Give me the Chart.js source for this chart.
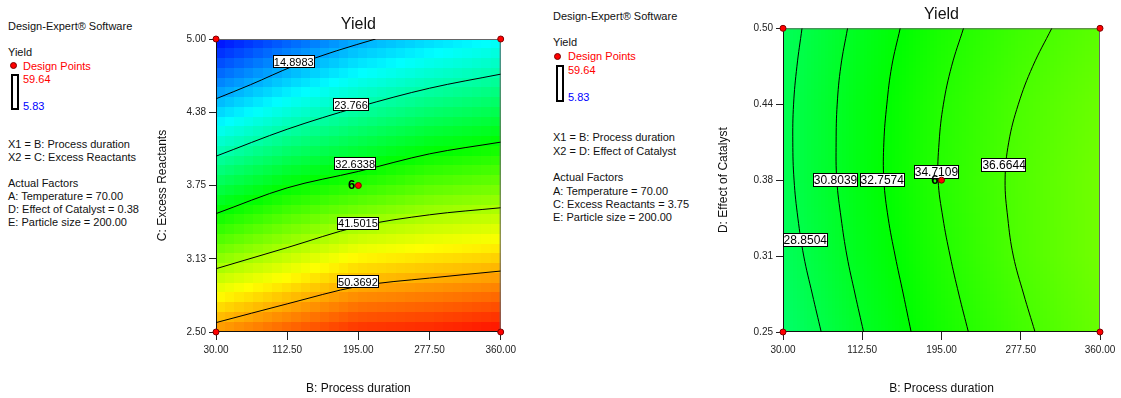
<!DOCTYPE html>
<html>
<head>
<meta charset="utf-8">
<script src="https://cdn.jsdelivr.net/npm/chart.js@4.4.1/dist/chart.umd.min.js"></script>
<style>
  body { margin: 0; width: 1121px; height: 398px; position: relative; background: #fff; overflow: hidden;
         font-family: Arial, "Liberation Sans", sans-serif; }
  canvas { position: absolute; top: 0; }
  .t { position: absolute; font-size: 11px; line-height: 13px; white-space: nowrap; color: #111; }
  .red { color: #ff0000; }
  .blue { color: #0000ff; }
  .dot { position: absolute; width: 5px; height: 5px; border-radius: 50%; background: #ff0000; border: 1px solid #700; }
  .bar { position: absolute; width: 4px; border: 2px solid #000; }
</style>
</head>
<body>
<!-- left side notes -->
<div class="t" style="left:8px;top:20px">Design-Expert® Software</div>
<div class="t" style="left:8px;top:46px">Yield</div>
<div class="dot" style="left:10px;top:62px"></div>
<div class="t red" style="left:23px;top:60px">Design Points</div>
<div class="bar" style="left:11px;top:74px;height:32px"></div>
<div class="t red" style="left:23px;top:73px">59.64</div>
<div class="t blue" style="left:23px;top:100px">5.83</div>
<div class="t" style="left:8px;top:138px">X1 = B: Process duration</div>
<div class="t" style="left:8px;top:151px">X2 = C: Excess Reactants</div>
<div class="t" style="left:8px;top:177px">Actual Factors</div>
<div class="t" style="left:8px;top:190px">A: Temperature = 70.00</div>
<div class="t" style="left:8px;top:203px">D: Effect of Catalyst = 0.38</div>
<div class="t" style="left:8px;top:216px">E: Particle size = 200.00</div>

<!-- right side notes -->
<div class="t" style="left:553px;top:10px">Design-Expert® Software</div>
<div class="t" style="left:553px;top:36px">Yield</div>
<div class="dot" style="left:554px;top:53px"></div>
<div class="t red" style="left:568px;top:50px">Design Points</div>
<div class="bar" style="left:556px;top:65px;height:33px"></div>
<div class="t red" style="left:568px;top:64px">59.64</div>
<div class="t blue" style="left:568px;top:91px">5.83</div>
<div class="t" style="left:553px;top:131px">X1 = B: Process duration</div>
<div class="t" style="left:553px;top:145px">X2 = D: Effect of Catalyst</div>
<div class="t" style="left:553px;top:171px">Actual Factors</div>
<div class="t" style="left:553px;top:185px">A: Temperature = 70.00</div>
<div class="t" style="left:553px;top:198px">C: Excess Reactants = 3.75</div>
<div class="t" style="left:553px;top:211px">E: Particle size = 200.00</div>

<canvas id="plotBC" width="380" height="398" style="left:140px"></canvas>
<canvas id="plotBD" width="421" height="398" style="left:700px"></canvas>

<script>
const bTicks = [30, 112.5, 195, 277.5, 360];
const bTickLabels = ['30.00', '112.50', '195.00', '277.50', '360.00'];
const cTicks = [2.5, 3.125, 3.75, 4.375, 5];
const cTickLabels = ['2.50', '3.13', '3.75', '4.38', '5.00'];
const dTicks = [0.25, 0.3125, 0.375, 0.4375, 0.5];
const dTickLabels = ['0.25', '0.31', '0.38', '0.44', '0.50'];
const yieldRange = [5.83, 59.64];

const yieldBC = [
  [51.9, 54.8, 57.3, 57.9, 59.0],
  [39.9, 43.2, 46.6, 47.7, 48.6],
  [28.3, 32.3, 34.8, 37.2, 38.5],
  [17.0, 21.2, 24.5, 27.0, 28.7],
  [6.0, 10.4, 14.4, 17.0, 19.2],
];
// same for the right plot (rows: D 0.25 -> 0.50)
const yieldBD = [
  [27.1, 30.7, 33.8, 36.2, 38.2],
  [27.9, 31.4, 34.4, 36.9, 38.7],
  [28.4, 31.9, 34.8, 37.0, 38.7],
  [28.4, 31.8, 34.6, 36.7, 38.3],
  [28.0, 31.3, 34.0, 36.0, 37.5],
];

// contour lines, left plot: [B, C]
const levelsBC = ['14.8983', '23.766', '32.6338', '41.5015', '50.3692'];
const contoursBC = [
  [[30, 4.49], [70, 4.61], [120, 4.77], [170, 4.90], [215, 5.0]],
  [[30, 4.00], [112.5, 4.23], [195, 4.42], [277.5, 4.58], [360, 4.70]],
  [[30, 3.51], [112.5, 3.73], [195, 3.87], [277.5, 4.02], [360, 4.12]],
  [[30, 3.04], [112.5, 3.22], [195, 3.40], [277.5, 3.50], [360, 3.56]],
  [[30, 2.58], [112.5, 2.74], [195, 2.89], [277.5, 2.96], [360, 3.02]],
];
const labelsBC = [[120.1, 4.806], [186.5, 4.437], [191.3, 3.937], [194.5, 3.429], [194.5, 2.931]];

// contour lines, right plot: B value of each line at these D values
const levelsBD = ['28.8504', '30.8039', '32.7574', '34.7109', '36.6644'];
const contourD = [0.25, 0.28125, 0.3125, 0.34375, 0.375, 0.40625, 0.4375, 0.46875, 0.5];
const contoursBD = [
  [69.8, 60.5, 51.6, 45.5, 41.5, 40.2, 41, 44.5, 49.8],
  [113.9, 105, 96.6, 90.5, 86, 85.3, 86.4, 90.2, 97.2],
  [163.4, 155.2, 146.8, 139.5, 135, 135, 138.1, 143.2, 152],
  [223, 213, 204, 196.5, 191.5, 192.5, 197, 205.5, 217.9],
  [292.4, 280.5, 269.8, 264, 261.2, 265, 275, 290, 309.8],
];
const labelsBD = [[53.2, 0.3256], [84.7, 0.3753], [133.3, 0.3753], [189.7, 0.3816], [260.2, 0.3876]];

const pointsBC = [[30, 2.5], [360, 2.5], [30, 5], [360, 5], [195, 3.75]];
const pointsBD = [[30, 0.25], [360, 0.25], [30, 0.5], [360, 0.5], [195, 0.375]];
const centerRuns = '6';

function yieldColor(v) {
  const stops = [[0, 0, 255], [0, 255, 255], [0, 255, 0], [255, 255, 0], [255, 0, 0]];
  let t = (v - yieldRange[0]) / (yieldRange[1] - yieldRange[0]);
  t = Math.min(1, Math.max(0, t)) * 4;
  const i = Math.min(3, Math.floor(t));
  const f = t - i;
  const c = stops[i].map((s, k) => Math.round(s + (stops[i + 1][k] - s) * f));
  return `rgb(${c[0]},${c[1]},${c[2]})`;
}

function lookup(grid, xs, ys, x, y) {
  let i = 0, j = 0;
  while (i < xs.length - 2 && x > xs[i + 1]) i++;
  while (j < ys.length - 2 && y > ys[j + 1]) j++;
  const fx = (x - xs[i]) / (xs[i + 1] - xs[i]);
  const fy = (y - ys[j]) / (ys[j + 1] - ys[j]);
  const a = grid[j][i] + (grid[j][i + 1] - grid[j][i]) * fx;
  const b = grid[j + 1][i] + (grid[j + 1][i + 1] - grid[j + 1][i]) * fx;
  return a + (b - a) * fy;
}

const fieldPlugin = {
  id: 'field',
  beforeDatasetsDraw(chart, args, opts) {
    const { ctx, chartArea: a, scales: { x, y } } = chart;
    const w = a.right - a.left, h = a.bottom - a.top;
    for (let i = 0; i < opts.cells; i++) {
      for (let j = 0; j < opts.cells; j++) {
        const px0 = a.left + w * i / opts.cells, px1 = a.left + w * (i + 1) / opts.cells;
        const py0 = a.top + h * j / opts.cells, py1 = a.top + h * (j + 1) / opts.cells;
        const v = lookup(opts.grid, opts.xs, opts.ys,
          x.getValueForPixel((px0 + px1) / 2), y.getValueForPixel((py0 + py1) / 2));
        ctx.fillStyle = yieldColor(v);
        ctx.fillRect(Math.floor(px0), Math.floor(py0), Math.ceil(px1) - Math.floor(px0), Math.ceil(py1) - Math.floor(py0));
      }
    }
    ctx.save();
    ctx.lineWidth = 1;
    ctx.strokeStyle = '#666';
    ctx.beginPath();
    ctx.moveTo(a.left, a.top + 0.5); ctx.lineTo(a.right, a.top + 0.5);
    ctx.moveTo(a.right - 0.5, a.top); ctx.lineTo(a.right - 0.5, a.bottom);
    ctx.stroke();
    ctx.strokeStyle = '#111';
    ctx.beginPath();
    ctx.moveTo(a.left + 0.5, a.top); ctx.lineTo(a.left + 0.5, a.bottom);
    ctx.moveTo(a.left, a.bottom - 0.5); ctx.lineTo(a.right, a.bottom - 0.5);
    ctx.stroke();
    ctx.restore();
  },
  afterDatasetDraw(chart, args, opts) {
    if (args.index !== 1) return;
    const { ctx, scales: { x, y } } = chart;
    ctx.save();
    ctx.font = opts.labelFont;
    ctx.textAlign = 'center';
    ctx.textBaseline = 'middle';
    opts.labels.forEach((p, k) => {
      const cx = x.getPixelForValue(p[0]), cy = y.getPixelForValue(p[1]);
      const tw = ctx.measureText(opts.levels[k]).width + 2;
      const bh = opts.boxHeight;
      ctx.fillStyle = '#fff';
      ctx.fillRect(Math.round(cx - tw / 2), Math.round(cy - bh / 2), Math.round(tw), bh);
      ctx.strokeStyle = '#000';
      ctx.lineWidth = 1;
      ctx.strokeRect(Math.round(cx - tw / 2) + 0.5, Math.round(cy - bh / 2) + 0.5, Math.round(tw) - 1, bh - 1);
      ctx.fillStyle = '#000';
      ctx.fillText(opts.levels[k], cx, cy + 1);
    });
    ctx.restore();
  },
  afterDatasetsDraw(chart) {
    const pt = chart.getDatasetMeta(0).data[4];
    const ctx = chart.ctx;
    ctx.save();
    ctx.font = 'bold 13px Arial, "Liberation Sans", sans-serif';
    ctx.fillStyle = '#000';
    ctx.textAlign = 'right';
    ctx.textBaseline = 'middle';
    ctx.fillText(centerRuns, pt.x - 3, pt.y);
    ctx.restore();
  },
};

function axis(min, max, ticks, tickLabels, title, titlePad, size, horizontal) {
  return {
    type: 'linear',
    min, max,
    afterBuildTicks: (s) => { s.ticks = ticks.map((v) => ({ value: v })); },
    afterFit: (s) => { if (horizontal) s.height = size; else s.width = size; },
    ticks: {
      color: '#222',
      font: { size: 10, family: 'Arial, "Liberation Sans", sans-serif' },
      padding: horizontal ? 4 : 3,
      maxRotation: 0,
      autoSkip: false,
      callback: (v) => tickLabels[ticks.indexOf(v)],
    },
    grid: { drawOnChartArea: false, drawTicks: true, tickLength: horizontal ? 8 : 7, color: '#222' },
    border: { display: false },
    title: {
      display: true, text: title, color: '#111',
      font: { size: 12, family: 'Arial, "Liberation Sans", sans-serif' },
      padding: titlePad,
    },
  };
}

function makePlot(id, o) {
  const datasets = [{
    type: 'scatter',
    data: o.points.map((p) => ({ x: p[0], y: p[1] })),
    pointRadius: 3,
    pointBackgroundColor: '#ff0000',
    pointBorderColor: '#800000',
    pointBorderWidth: 1,
    clip: false,
  }];
  o.contours.forEach((line) => {
    datasets.push({
      type: 'line',
      indexAxis: o.lineAxis,
      data: line.map((p) => ({ x: p[0], y: p[1] })),
      borderColor: '#000',
      borderWidth: 1,
      pointRadius: 0,
      cubicInterpolationMode: o.lineMode,
      tension: 0.4,
      fill: false,
    });
  });
  return new Chart(document.getElementById(id), {
    data: { datasets },
    plugins: [fieldPlugin],
    options: {
      responsive: false,
      animation: false,
      events: [],
      layout: { padding: { left: 0, right: o.padRight, top: 0, bottom: 0 } },
      scales: {
        x: axis(30, 360, bTicks, bTickLabels, 'B: Process duration', 2, 66, true),
        y: axis(o.yMin, o.yMax, o.yTicks, o.yTickLabels, o.yTitle, o.yTitlePad, o.yWidth, false),
      },
      plugins: {
        legend: { display: false },
        tooltip: { enabled: false },
        title: {
          display: true, text: 'Yield', fullSize: false, color: '#111',
          font: { size: 16, weight: 'normal', family: 'Arial, "Liberation Sans", sans-serif' },
          padding: o.titlePad,
        },
        field: {
          cells: o.cells, grid: o.grid, xs: bTicks, ys: o.yTicks,
          labels: o.labels, levels: o.levels, labelFont: o.labelFont, boxHeight: o.boxHeight,
        },
      },
    },
  });
}

makePlot('plotBC', {
  points: pointsBC, contours: contoursBC, labels: labelsBC, levels: levelsBC,
  lineAxis: 'x', lineMode: 'monotone',
  grid: yieldBC, yMin: 2.5, yMax: 5, yTicks: cTicks, yTickLabels: cTickLabels,
  yTitle: 'C: Excess Reactants', yTitlePad: { top: 15, bottom: 15 }, yWidth: 76,
  padRight: 18, titlePad: { top: 15.4, bottom: 4.4 }, cells: 30,
  labelFont: '11px Arial, "Liberation Sans", sans-serif', boxHeight: 13,
});

makePlot('plotBD', {
  points: pointsBD,
  contours: contoursBD.map((line) => line.map((b, k) => [b, contourD[k]])),
  labels: labelsBD, levels: levelsBD, lineAxis: 'y', lineMode: 'default',
  grid: yieldBD, yMin: 0.25, yMax: 0.5, yTicks: dTicks, yTickLabels: dTickLabels,
  yTitle: 'D: Effect of Catalyst', yTitlePad: { top: 16, bottom: 16 }, yWidth: 83,
  padRight: 21, titlePad: { top: 5.4, bottom: 3.7 }, cells: 90,
  labelFont: '12px Arial, "Liberation Sans", sans-serif', boxHeight: 14,
});
</script>
</body>
</html>
